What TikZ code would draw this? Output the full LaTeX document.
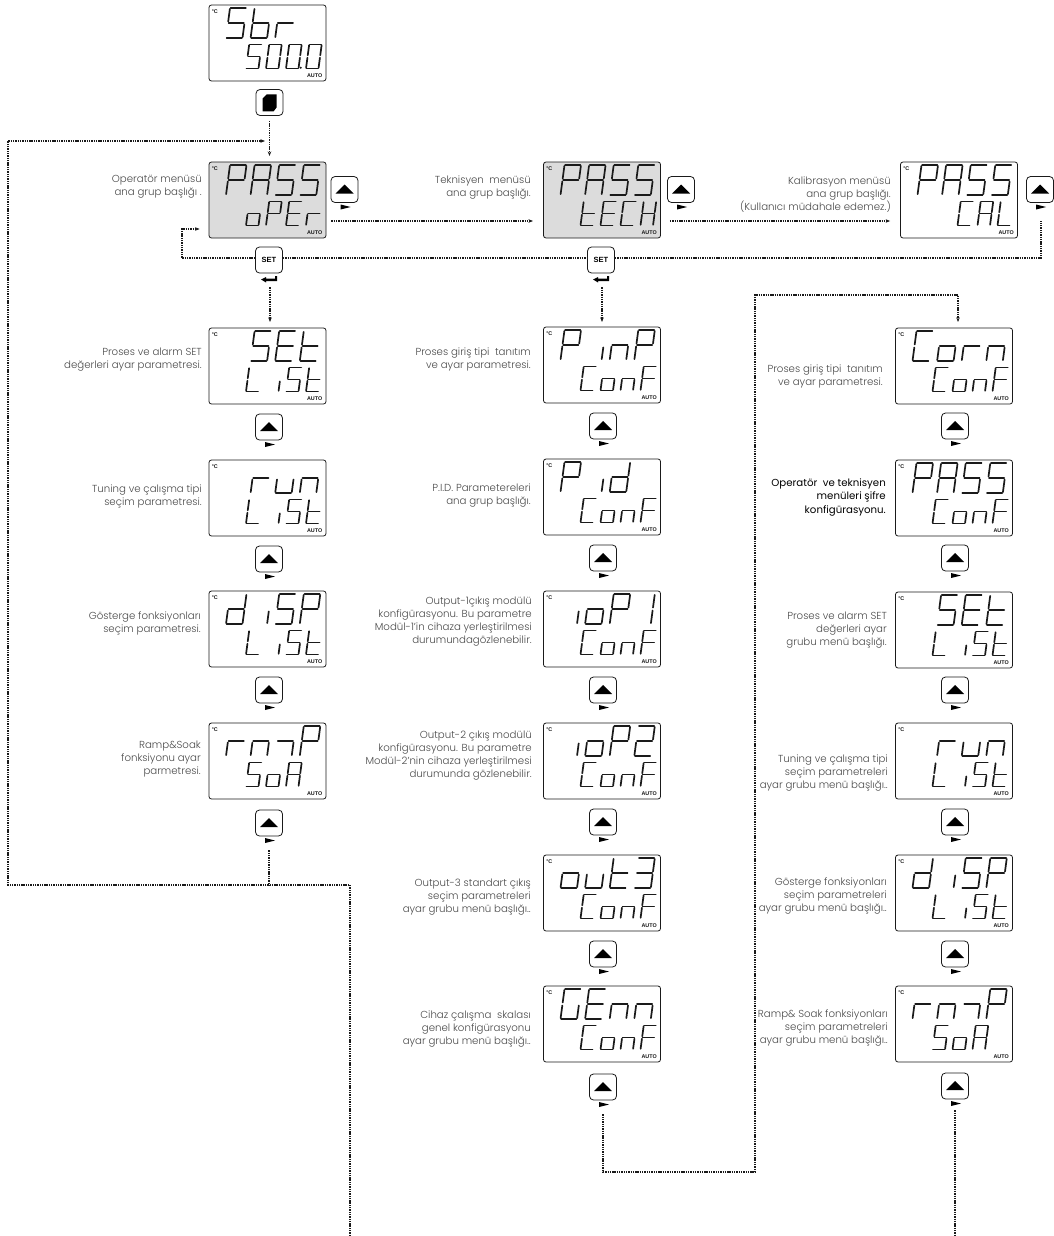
\documentclass[tikz,border=0pt]{standalone}
\usepackage{fontspec}
\usetikzlibrary{arrows.meta,calc}
\setmainfont{Poppins Light}
\newfontfamily\labb{Poppins}
\newfontfamily\arl{Liberation Sans}
\definecolor{lcdgray}{HTML}{DCDCDC}
\definecolor{inkc}{HTML}{1A1A1A}
\definecolor{labc}{HTML}{4A4A4A}
\tikzset{
 segm/.style={line width=1.7pt,line cap=round,color=inkc},
 lcdbox/.style={draw=inkc,line width=0.8pt,rounded corners=2.5pt,minimum width=117pt,minimum height=76pt,inner sep=0pt},
 keybox/.style={draw=inkc,line width=0.8pt,rounded corners=4pt,minimum width=27pt,minimum height=26pt,inner sep=0pt},
 conn/.style={line width=1.3pt,dash pattern=on 1.4pt off 0.9pt,color=inkc},
 tip/.style={-{Stealth[length=4.5pt,width=3.5pt]}},
 lab/.style={anchor=east,align=right,inner sep=0pt,font=\fontsize{10.2}{13}\selectfont,text=labc},
 labbold/.style={anchor=east,align=right,inner sep=0pt,font=\labb\fontsize{10.2}{13.5}\selectfont,text=black},
 tiny/.style={inner sep=0pt,font=\arl\bfseries\fontsize{5.4}{6}\selectfont,text=inkc},
}
\expandafter\def\csname sg-a\endcsname{\draw[segm] (.04,1)--(.96,1);}
\expandafter\def\csname sg-b\endcsname{\draw[segm] (1,.97)--(1,.55);}
\expandafter\def\csname sg-c\endcsname{\draw[segm] (1,.45)--(1,.03);}
\expandafter\def\csname sg-d\endcsname{\draw[segm] (.04,0)--(.96,0);}
\expandafter\def\csname sg-e\endcsname{\draw[segm] (0,.45)--(0,.03);}
\expandafter\def\csname sg-f\endcsname{\draw[segm] (0,.97)--(0,.55);}
\expandafter\def\csname sg-g\endcsname{\draw[segm] (.04,.5)--(.96,.5);}
\expandafter\def\csname sg-i\endcsname{\draw[segm] (1,.42)--(1,.03);}
\expandafter\def\csname sg-p\endcsname{\fill[inkc] (1.17,.03) circle[radius=1.1pt];}
\expandafter\def\csname sg-z\endcsname{}
\def\defglyph#1#2{\expandafter\def\csname gl-#1\endcsname{#2}}
\defglyph{x}{z}
\defglyph{A}{a,b,c,e,f,g}\defglyph{C}{a,f,e,d}\defglyph{E}{a,f,g,e,d}\defglyph{F}{a,f,g,e}
\defglyph{G}{a,f,e,d,c}\defglyph{H}{b,c,e,f,g}\defglyph{L}{f,e,d}\defglyph{P}{a,b,f,g,e}
\defglyph{S}{a,f,g,c,d}\defglyph{b}{f,e,d,c,g}\defglyph{d}{b,c,d,e,g}\defglyph{i}{i}
\defglyph{n}{e,g,c}\defglyph{o}{c,d,e,g}\defglyph{r}{e,g}\defglyph{t}{f,g,e,d}
\defglyph{u}{e,d,c}\defglyph{O}{a,b,c,d,e,f}\defglyph{Q}{a,b,c,d,e,f,p}
\defglyph{m}{g,c}\defglyph{j}{b,c}\defglyph{k}{a,b,g,e,d}\defglyph{l}{a,b,g,c,d}
\newcommand\drawrow[7]{%
 \foreach \g [count=\ii from 0] in {#7} {%
  \pgfmathsetmacro\gx{#1+\ii*#3}%
  \begin{scope}[shift={(\gx,#2)},x={(#4pt,0pt)},y={(#6pt,#5pt)}]
   \edef\seglist{\csname gl-\g\endcsname}%
   \foreach \s in \seglist {\csname sg-\s\endcsname}%
  \end{scope}
 }}
\newcommand\lcd[6]{% name, left, top, fill, top row, bottom row
 \pgfmathsetmacro\cx{#2+58.5}\pgfmathsetmacro\cy{#3+38}%
 \node[lcdbox,fill=#4] (#1) at (\cx,\cy) {};
 \node[tiny,anchor=west] (#1-c) at ($(#1.north west)+(3,7)$) {°C};
 \node[tiny,anchor=east] (#1-a) at ($(#1.south east)+(-4,-6)$) {AUTO};
 \pgfmathsetmacro\rx{#2+17}\pgfmathsetmacro\ry{#3+33}%
 \drawrow{\rx}{\ry}{24.6}{16.5}{30}{4}{#5}%
 \pgfmathsetmacro\rx{#2+37}\pgfmathsetmacro\ry{#3+63.5}%
 \drawrow{\rx}{\ry}{20}{12.5}{24}{3.2}{#6}%
}
\newcommand\upkey[3]{% name, cx, cy
 \node[keybox,fill=white] (#1) at (#2,#3) {};
 \fill[black] ($(#1.center)+(-9,4)$)--($(#1.center)+(0,-5)$)--($(#1.center)+(9,4)$)--cycle;
 \fill[black] ($(#1.center)+(-4,15)$)--($(#1.center)+(6,17.5)$)--($(#1.center)+(-4,20)$)--cycle;
}
\newcommand\setkey[3]{%
 \node[keybox,fill=white,font=\arl\bfseries\fontsize{7.5}{8}\selectfont] (#1) at (#2,#3) {SET};
 \fill[black] ($(#1.center)+(-8,19.5)$)--($(#1.center)+(-3,17)$)--($(#1.center)+(-3,18.5)$)--($(#1.center)+(6,18.5)$)--($(#1.center)+(6,16)$)--($(#1.center)+(8,16)$)--($(#1.center)+(8,21)$)--($(#1.center)+(-3,21)$)--($(#1.center)+(-3,22.5)$)--cycle;
}
\begin{document}
\begin{tikzpicture}[x=1pt,y=-1pt]
\useasboundingbox (0,0) rectangle (1053,1236);
% displays, column 1
\lcd{top}{209}{5}{white}{S,b,r}{S,O,Q,O}
\lcd{oper}{209}{162}{lcdgray}{P,A,S,S}{o,P,E,r}
\lcd{aset}{209}{328}{white}{x,S,E,t}{L,i,S,t}
\lcd{arun}{209}{460}{white}{x,r,u,n}{L,i,S,t}
\lcd{adsp}{209}{591}{white}{d,i,S,P}{L,i,S,t}
\lcd{armp}{209}{723}{white}{r,n,m,P}{S,o,A}
% column 2
\lcd{tech}{543.5}{162}{lcdgray}{P,A,S,S}{t,E,C,H}
\lcd{binp}{543.5}{327}{white}{P,i,n,P}{C,o,n,F}
\lcd{bpid}{543.5}{459}{white}{P,i,d}{C,o,n,F}
\lcd{biop}{543.5}{591}{white}{i,o,P,j}{C,o,n,F}
\lcd{biok}{543.5}{723}{white}{i,o,P,k}{C,o,n,F}
\lcd{bout}{543.5}{855}{white}{o,u,t,l}{C,o,n,F}
\lcd{bgen}{543.5}{986}{white}{G,E,n,n}{C,o,n,F}
% column 3
\lcd{cal}{900.5}{162}{white}{P,A,S,S}{x,C,A,L}
\lcd{ccor}{895.5}{328}{white}{C,o,r,n}{C,o,n,F}
\lcd{cpas}{895.5}{460}{white}{P,A,S,S}{C,o,n,F}
\lcd{cset}{895.5}{592}{white}{x,S,E,t}{L,i,S,t}
\lcd{crun}{895.5}{723}{white}{x,r,u,n}{L,i,S,t}
\lcd{cdsp}{895.5}{855}{white}{d,i,S,P}{L,i,S,t}
\lcd{crmp}{895.5}{986}{white}{r,n,m,P}{S,o,A}
% keys
\node[keybox,fill=white] (k0) at (269.5,102.5) {};
\fill[black] ($(k0.center)+(-7,-4)$)--($(k0.center)+(-3,-8)$)--($(k0.center)+(7,-8)$)--($(k0.center)+(7,5)$)--($(k0.center)+(4,9)$)--($(k0.center)+(-7,9)$)--cycle;
\upkey{k1}{344.5}{189.5}
\upkey{k2}{681}{189.5}
\upkey{k3}{1040}{189.5}
\setkey{s1}{269}{260}
\setkey{s2}{601}{260}
\upkey{a1}{269}{427}
\upkey{a2}{269}{559}
\upkey{a3}{269}{690}
\upkey{a4}{269}{823}
\upkey{b1}{603}{426}
\upkey{b2}{603}{558}
\upkey{b3}{603}{690}
\upkey{b4}{603}{822}
\upkey{b5}{603}{954}
\upkey{b6}{603}{1087}
\upkey{c1}{955}{426}
\upkey{c2}{955}{558}
\upkey{c3}{955}{690}
\upkey{c4}{955}{822}
\upkey{c5}{955}{954}
\upkey{c6}{955}{1086}
% labels
\node[lab] (l1) at (202,187) {Operatör menüsü\\ana grup başlığı .};
\node[lab] (l2) at (531,188) {Teknisyen\ \ menüsü\\ana grup başlığı.};
\node[lab] (l3) at (891,195) {Kalibrasyon menüsü\\ana grup başlığı.\\(Kullanıcı müdahale edemez.)};
\node[lab] (l4) at (202,360) {Proses ve alarm SET\\değerleri ayar parametresi.};
\node[lab] (l5) at (202,496) {Tuning ve çalışma tipi\\seçim parametresi.};
\node[lab] (l6) at (201,623) {Gösterge fonksiyonları\\seçim parametresi.};
\node[lab] (l7) at (201,759) {Ramp\&Soak\\fonksiyonu ayar\\parmetresi.};
\node[lab] (l8) at (531,359) {Proses giriş tipi\ \ tanıtım\\ve ayar parametresi.};
\node[lab] (l9) at (531,496) {P.I.D. Parametereleri\\ana grup başlığı.};
\node[lab] (l10) at (532,622) {Output-1çıkış modülü\\konfigürasyonu. Bu parametre\\Modül-1'in cihaza yerleştirilmesi\\durumundagözlenebilir.};
\node[lab] (l11) at (532,756) {Output-2 çıkış modülü\\konfigürasyonu. Bu parametre\\Modül-2'nin cihaza yerleştirilmesi\\durumunda gözlenebilir.};
\node[lab] (l12) at (531,897) {Output-3 standart çıkış\\seçim parametreleri\\ayar grubu menü başlığı..};
\node[lab] (l13) at (531,1029) {Cihaz çalışma\ \ skalası\\genel konfigürasyonu\\ayar grubu menü başlığı..};
\node[lab] (l14) at (883,376) {Proses giriş tipi\ \ tanıtım\\ve ayar parametresi.};
\node[labbold] (l15) at (886,497) {Operatör\ \ ve teknisyen\\menüleri şifre\\konfigürasyonu.};
\node[lab] (l16) at (887,630) {Proses ve alarm SET\\değerleri ayar\\grubu menü başlığı.};
\node[lab] (l17) at (888,773) {Tuning ve çalışma tipi\\seçim parametreleri\\ayar grubu menü başlığı..};
\node[lab] (l18) at (887,896) {Gösterge fonksiyonları\\seçim parametreleri\\ayar grubu menü başlığı..};
\node[lab] (l19) at (888,1028) {Ramp\& Soak fonksiyonları\\seçim parametreleri\\ayar grubu menü başlığı..};
% free ends
\coordinate (loopL) at (8,885);
\coordinate (loopR) at (350,885);
\coordinate (exitL) at (350,1236);
\coordinate (exitR) at (955,1236);
\coordinate (back) at (8,141);
\coordinate (riser) at (755,1172);
\coordinate (riserTop) at (755,295);
% connectors
\draw[conn,tip] ([yshift=-5pt]k0.south) -- (k0.south |- 0,156);
\draw[conn,tip] (exitL) -- (loopR) -- (loopL) -- (back) -- (265,141);
\draw[conn] ([yshift=-14pt]a4.south) -- (a4.south |- loopL);
\draw[conn,tip] (oper.east |- 0,221) ++(5,0) -- (533,221);
\draw[conn,tip] (tech.east |- 0,221) ++(9,0) -- ([xshift=-10pt]cal.west |- 0,221);
\draw[conn,tip] ([yshift=2pt]s1.west) -- (182,258) -- (182,229) -- ([xshift=-9pt]oper.west |- 0,229);
\draw[conn] ([yshift=2pt]s1.east) -- ([yshift=2pt]s2.west);
\draw[conn] ([yshift=2pt]s2.east) -- (1041,258) -- ([yshift=-18pt]k3.south -| 1041,0);
\draw[conn,tip] ([yshift=-14pt]s1.south -| 270,0) -- (270,322);
\draw[conn,tip] ([yshift=-14pt]s2.south -| 602,0) -- (602,322);
\draw[conn,tip] ([yshift=-14pt]b6.south) -- (b6.south |- riser) -- (riser) -- (riserTop) -- (958,295) -- (958,322);
\draw[conn] ([yshift=-11pt]c6.south) -- (c6.south |- exitR);
\end{tikzpicture}
\end{document}
